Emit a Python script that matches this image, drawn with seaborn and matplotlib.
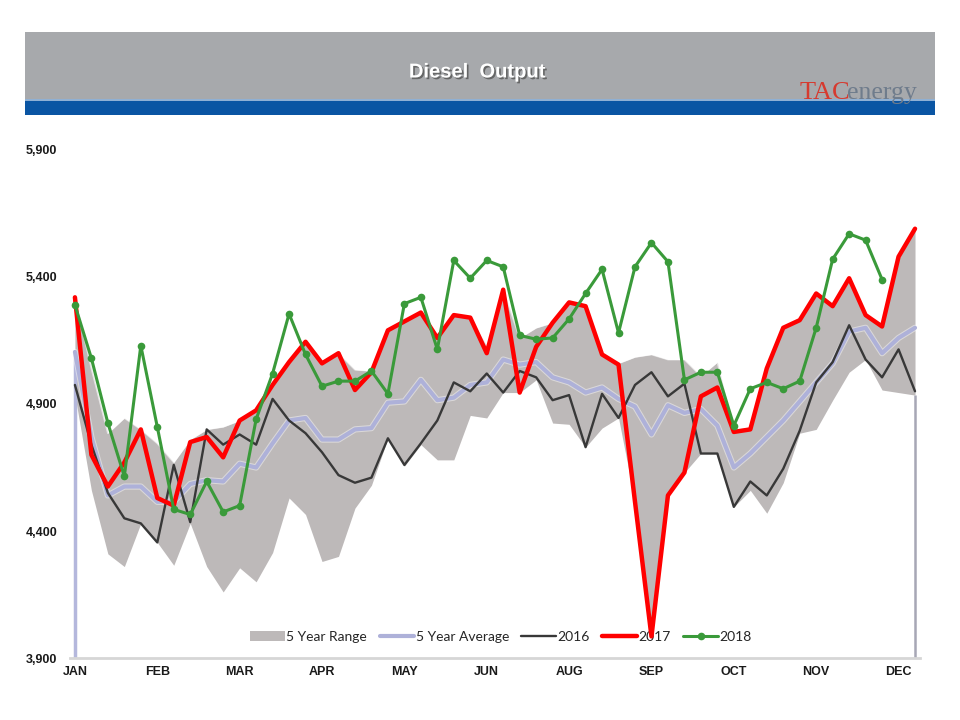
import matplotlib
matplotlib.use("Agg")
import matplotlib.pyplot as plt
import matplotlib.patheffects as pe
from matplotlib.patches import Rectangle
from matplotlib.ticker import FuncFormatter
import seaborn as sns
import pandas as pd
import numpy as np

# weekly diesel output, week 1..52
band_hi = [5320, 5040, 4785, 4845, 4800, 4745, 4670, 4760, 4800, 4810,
           4835, 4875, 4975, 5065, 5145, 5065, 5100, 5035, 5030, 5190,
           5225, 5260, 5160, 5250, 5240, 5130, 5350, 5160, 5200, 5220,
           5300, 5285, 5095, 5060, 5085, 5095, 5075, 5075, 5010, 5065,
           4800, 4810, 5040, 5200, 5230, 5335, 5285, 5395, 5250, 5205,
           5480, 5590]
band_lo = [4935, 4560, 4310, 4260, 4430, 4355, 4265, 4430, 4260, 4160,
           4255, 4200, 4315, 4530, 4465, 4280, 4300, 4490, 4580, 4765,
           4655, 4740, 4680, 4680, 4855, 4845, 4945, 4945, 4995, 4825,
           4820, 4730, 4805, 4845, 4515, 3985, 4540, 4630, 4705, 4705,
           4495, 4560, 4470, 4590, 4785, 4800, 4915, 5025, 5075, 4955,
           4945, 4935]
avg5 = [5105, 4770, 4540, 4575, 4575, 4515, 4515, 4585, 4600, 4595,
        4665, 4650, 4745, 4835, 4845, 4760, 4760, 4800, 4805, 4905,
        4910, 4995, 4915, 4925, 4975, 4985, 5075, 5055, 5065, 5005,
        4985, 4945, 4965, 4920, 4890, 4780, 4895, 4865, 4880, 4815,
        4650, 4705, 4770, 4835, 4910, 4985, 5060, 5185, 5200, 5100,
        5160, 5200]
y2016 = [4975, 4740, 4550, 4450, 4430, 4355, 4660, 4435, 4800, 4740,
         4780, 4740, 4920, 4835, 4785, 4710, 4620, 4590, 4610, 4765,
         4660, 4745, 4835, 4985, 4950, 5020, 4945, 5030, 5005, 4915,
         4935, 4730, 4940, 4845, 4975, 5025, 4930, 4980, 4705, 4705,
         4495, 4595, 4540, 4645, 4795, 4985, 5065, 5210, 5075, 5005,
         5115, 4950]
y2017 = [5320, 4700, 4575, 4670, 4800, 4530, 4500, 4750, 4770, 4690,
         4835, 4875, 4975, 5065, 5145, 5060, 5100, 4955, 5025, 5190,
         5225, 5260, 5160, 5250, 5240, 5100, 5350, 4945, 5125, 5220,
         5300, 5285, 5095, 5055, 4515, 3985, 4540, 4630, 4930, 4965,
         4790, 4800, 5040, 5200, 5230, 5335, 5285, 5395, 5250, 5205,
         5480, 5590]
y2018 = [5290, 5080, 4825, 4615, 5130, 4810, 4485, 4465, 4595, 4475,
         4500, 4840, 5020, 5255, 5095, 4970, 4990, 4990, 5030, 4940,
         5295, 5320, 5115, 5465, 5395, 5465, 5440, 5170, 5155, 5160,
         5235, 5335, 5430, 5180, 5440, 5535, 5460, 4995, 5025, 5025,
         4815, 4960, 4985, 4960, 4990, 5200, 5470, 5570, 5545, 5390]

month_ticks = [0, 5, 10, 15, 20, 25, 30, 35, 40, 45, 50]
month_labels = ["JAN", "FEB", "MAR", "APR", "MAY", "JUN", "AUG", "SEP",
                "OCT", "NOV", "DEC"]
y_ticks = [3900, 4400, 4900, 5400, 5900]

weeks = np.arange(len(band_hi))
df = pd.DataFrame({"week": weeks, "hi": band_hi, "lo": band_lo, "avg": avg5,
                   "y2016": y2016, "y2017": y2017})
df18 = pd.DataFrame({"week": weeks[:len(y2018)], "y2018": y2018})

sns.set_style("white")
plt.rcParams["font.family"] = ["Liberation Sans", "DejaVu Sans"]

fig = plt.figure(figsize=(9.6, 7.2), dpi=100)

# header banner
fig.patches.append(Rectangle((0.026, 0.8611), 0.948, 0.0945, transform=fig.transFigure,
                             facecolor="#a7a9ac", edgecolor="none", zorder=0))
fig.patches.append(Rectangle((0.026, 0.8403), 0.948, 0.0208, transform=fig.transFigure,
                             facecolor="#0a55a3", edgecolor="none", zorder=0))
fig.patches.append(Rectangle((0.026, 0.8597), 0.948, 0.0028, transform=fig.transFigure,
                             facecolor="#8fb0d4", edgecolor="none", zorder=0))
fig.text(0.497, 0.9, "Diesel  Output", color="white", fontsize=14.5, fontweight="bold",
         ha="center", va="center",
         path_effects=[pe.withSimplePatchShadow(offset=(1.2, -1.2), shadow_rgbFace="#555555", alpha=0.8)])
fig.text(0.886, 0.862, "TAC", color="#d63a2f", fontsize=19, family="Liberation Serif",
         ha="right", va="baseline")
fig.text(0.882, 0.862, "energy", color="#6f7c8c", fontsize=18.5, family="Liberation Serif",
         ha="left", va="baseline")

ax = fig.add_axes([0.0729, 0.0861, 0.8854, 0.7056])

ax.fill_between(df["week"], df["lo"], df["hi"], color="#bdb9b9", lw=0,
                label="5 Year Range", zorder=1)
ax.plot(df["week"], df["hi"], color="white", lw=1.2, alpha=0.6, zorder=1.1)
ax.vlines(weeks[0], 3900, avg5[0], color="#b4b7dc", lw=2.5, zorder=1.2)
ax.vlines(weeks[-1], 3900, band_lo[-1], color="#a7a7b5", lw=1.8, zorder=1.2)

sns.lineplot(data=df, x="week", y="avg", ax=ax, color="#aeb1d9", lw=3,
             label="5 Year Average", zorder=2,
             path_effects=[pe.withStroke(linewidth=4.5, foreground="white", alpha=0.45)])
sns.lineplot(data=df, x="week", y="y2016", ax=ax, color="#383838", lw=1.7,
             label="2016", zorder=3)
sns.lineplot(data=df, x="week", y="y2017", ax=ax, color="#ff0000", lw=3.2,
             label="2017", zorder=4)
sns.lineplot(data=df18, x="week", y="y2018", ax=ax, color="#3a9a3a", lw=2.2,
             marker="o", markersize=5.5, markeredgewidth=0, label="2018", zorder=5)

ax.set_xlim(-0.3, 51.3)
ax.set_ylim(3900, 5900)
ax.set_xticks(month_ticks)
ax.set_xticklabels(month_labels)
ax.set_yticks(y_ticks)
ax.yaxis.set_major_formatter(FuncFormatter(lambda v, p: f"{int(v):,}"))
ax.set_xlabel("")
ax.set_ylabel("")
ax.tick_params(axis="both", length=0, labelsize=9, colors="#1a1a1a")
ax.tick_params(axis="y", pad=9)
ax.tick_params(axis="x", pad=6)
for lab in ax.get_xticklabels() + ax.get_yticklabels():
    lab.set_fontweight("bold")
for s in ["top", "right", "left"]:
    ax.spines[s].set_visible(False)
ax.spines["bottom"].set_color("#d6d6d6")
ax.spines["bottom"].set_linewidth(2)

handles, labels = ax.get_legend_handles_labels()
order = ["5 Year Range", "5 Year Average", "2016", "2017", "2018"]
hmap = dict(zip(labels, handles))
leg = ax.legend([hmap[k] for k in order], order, loc="center",
                bbox_to_anchor=(0.507, 0.042), ncol=5, frameon=False,
                handlelength=2.5, handletextpad=0.1, columnspacing=0.9,
                prop={"family": "Lato", "size": 10})
leg.set_zorder(3.5)

fig.savefig("out.png", dpi=100)
